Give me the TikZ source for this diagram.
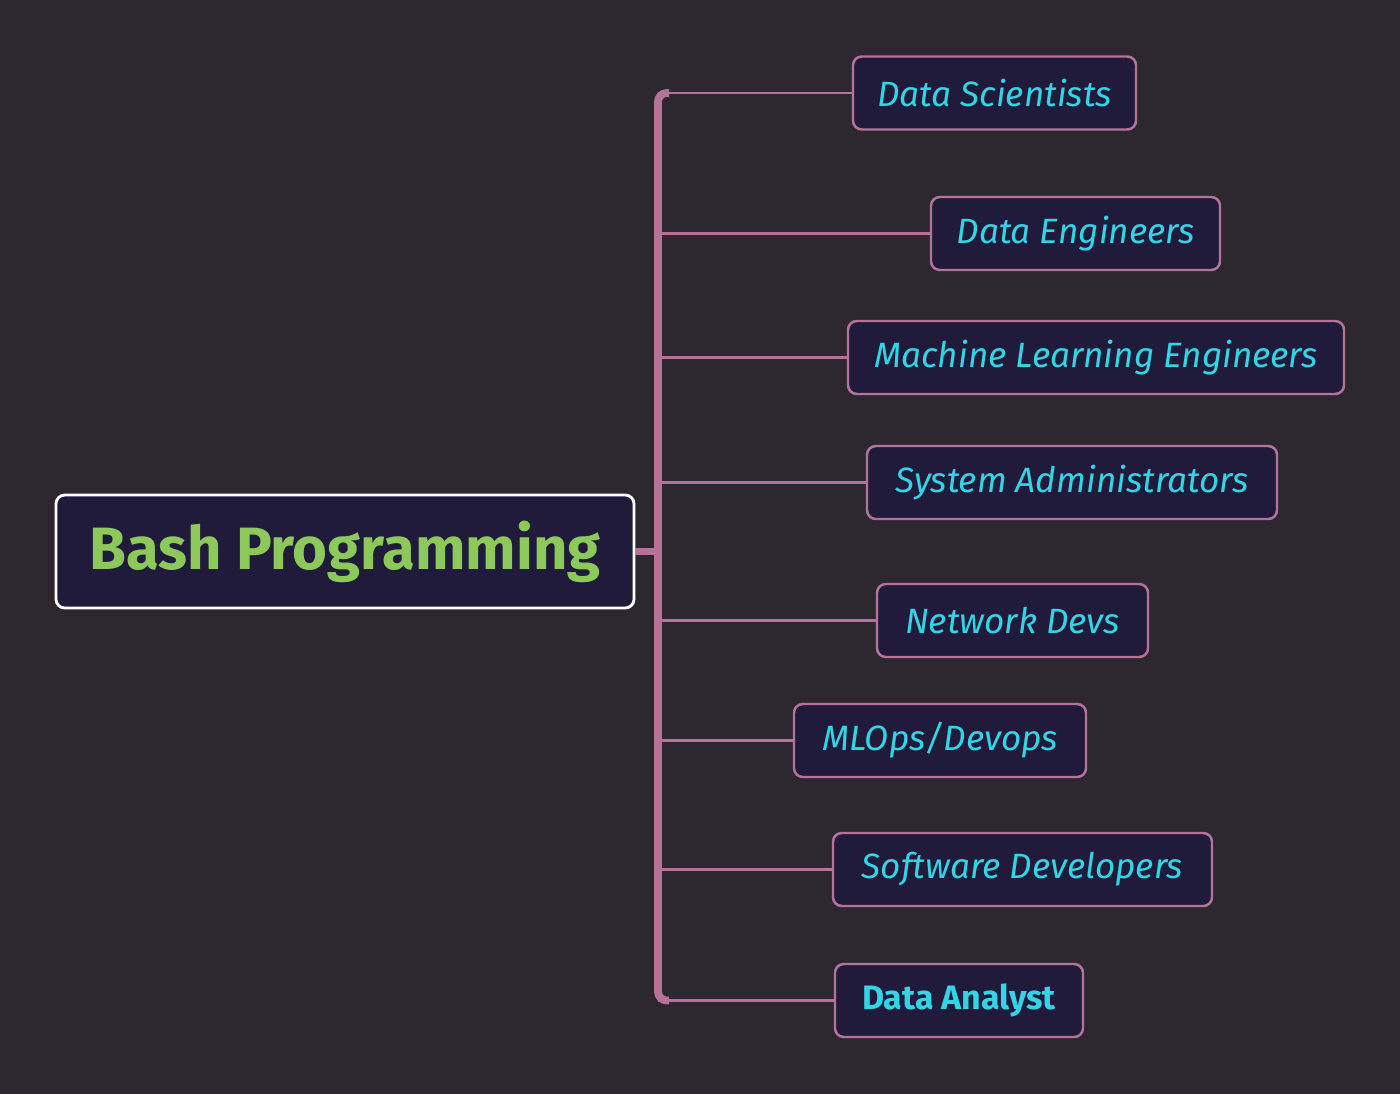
\documentclass[tikz,border=0pt]{standalone}
\usepackage{fontspec}
\setmainfont{Fira Sans}
\usepackage{xcolor}
\usetikzlibrary{positioning,calc}

\definecolor{bgdark}{HTML}{2D2830}
\definecolor{boxfill}{HTML}{211B3B}
\definecolor{linkpink}{HTML}{B5739A}
\definecolor{textcyan}{HTML}{33D4E6}
\definecolor{rootgreen}{HTML}{8DC95A}

\begin{document}
\begin{tikzpicture}[
    rootbox/.style={draw=white, fill=boxfill, line width=1.6pt, rounded corners=5pt, minimum height=2.26cm, text=rootgreen, font=\fontsize{34}{38}\selectfont\bfseries},
    role/.style={draw=linkpink, fill=boxfill, line width=1.4pt, rounded corners=5pt, minimum height=1.46cm, text=textcyan, font=\fontsize{20}{24}\selectfont\itshape},
    trunk/.style={draw=linkpink, line width=4.4pt, rounded corners=5pt},
    branch/.style={draw=linkpink, line width=1.6pt}
]

\useasboundingbox[fill=bgdark] (0,0) rectangle (28,-21.88);

% centre topic
\node[rootbox, minimum width=11.56cm] (root) at (6.9,-11.03) {Bash Programming};
\coordinate (hub) at (13.16,-11.03);

% roles
\node[role, minimum width=5.66cm] (ds)    at (19.89,-1.86)  {Data Scientists};
\node[role, minimum width=5.78cm] (de)    at (21.51,-4.67)  {Data Engineers};
\node[role, minimum width=9.92cm] (mle)   at (21.92,-7.15)  {Machine Learning Engineers};
\node[role, minimum width=8.20cm] (sa)    at (21.44,-9.65)  {System Administrators};
\node[role, minimum width=5.42cm] (nd)    at (20.25,-12.41) {Network Devs};
\node[role, minimum width=5.84cm] (mlops) at (18.80,-14.81) {MLOps/Devops};
\node[role, minimum width=7.58cm] (sd)    at (20.45,-17.39) {Software Developers};
\node[role, minimum width=4.96cm, font=\fontsize{19.3}{24}\selectfont\bfseries] (da) at (19.18,-20.01) {Data Analyst};

% connectors
\draw[trunk] (root.east) -- (hub);
\foreach \n in {ds,de,mle,sa,nd,mlops,sd,da}
  \draw[branch] (\n.west -| hub) -- (\n.west);
\draw[trunk] ($(ds.west -| hub)+(0.22,0)$) -- (ds.west -| hub) -- (da.west -| hub) -- ++(0.22,0);

\end{tikzpicture}
\end{document}
